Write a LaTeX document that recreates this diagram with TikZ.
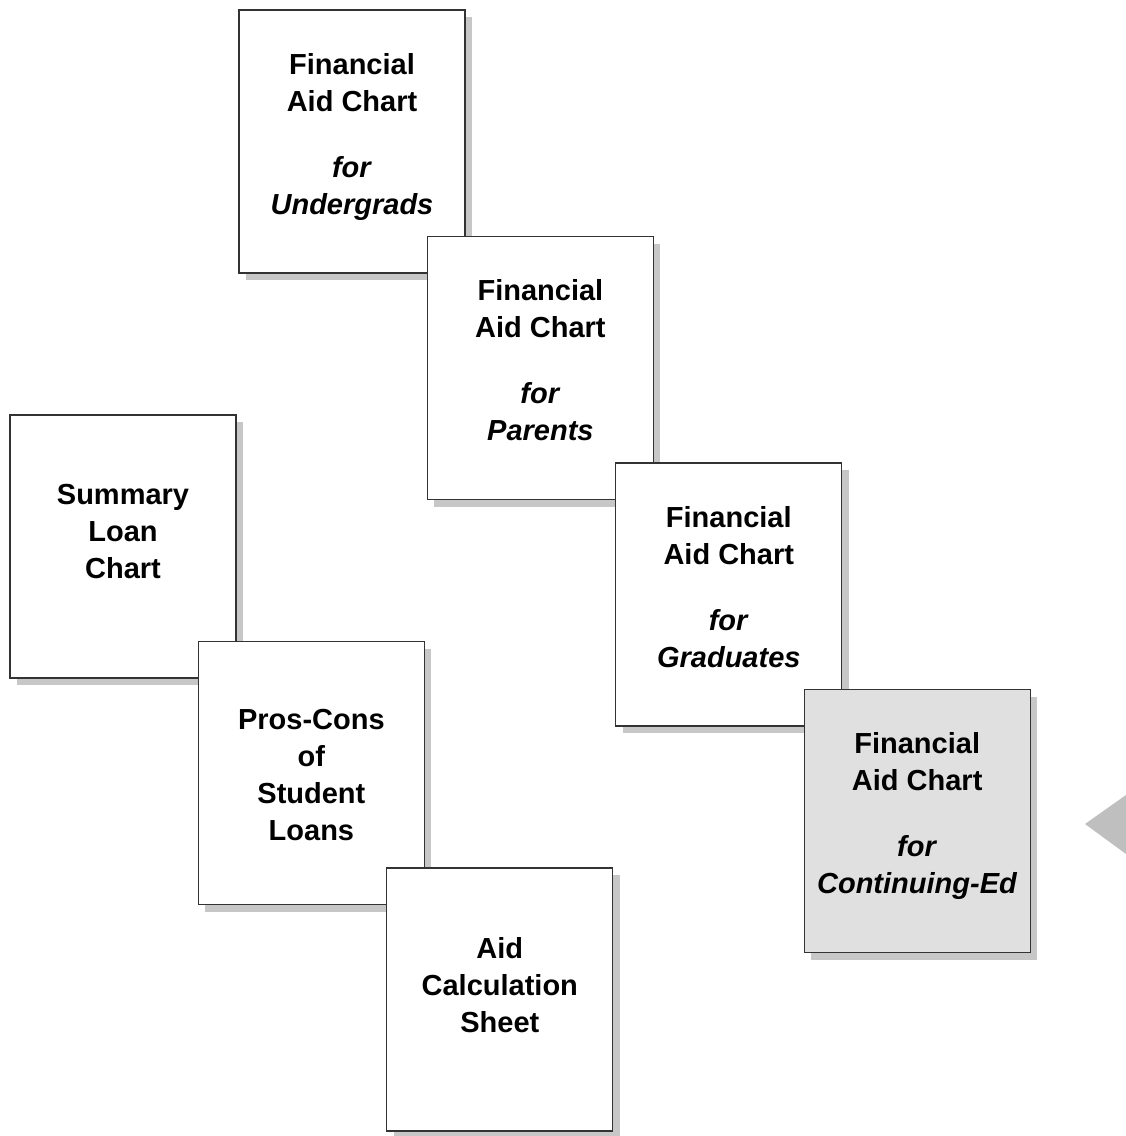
\documentclass[tikz,border=0pt]{standalone}
\usepackage{fontspec}
\setmainfont{Liberation Sans}
\usetikzlibrary{positioning,shadows}

\begin{document}
\begin{tikzpicture}[
    x=1pt, y=1pt,
    node distance=-36.5pt and -37.6pt,
    font=\fontsize{29}{37}\selectfont\bfseries,
    % Node styles
    sheet/.style={draw=black!80, line width=1.2pt, fill=white, inner sep=0pt, outer sep=0pt,
        minimum width=226pt, minimum height=263pt,
        general shadow={fill=black!22, shadow xshift=7pt, shadow yshift=-7pt}},
    current/.style={sheet, fill=black!12},
    caption/.style={anchor=north, align=center, inner sep=0pt},
    pointer/.style={fill=black!25},
]
    \useasboundingbox (0,0) rectangle (1126,-1136);

    % Financial aid charts
    \node[sheet] (ug) at (352,-141.5) {};
    \node[sheet, below right=of ug] (pa) {};
    \node[sheet, below right=of pa] (gr) {};
    \node[current, below right=of gr] (ce) {};

    % Loan sheets
    \node[sheet] (su) at (123,-546.5) {};
    \node[sheet, below right=of su] (pc) {};
    \node[sheet, below right=of pc] (ac) {};

    % Captions
    \node[caption] (ugtext) at ([yshift=-43pt]ug.north) {Financial\\Aid Chart\\[29pt]\textit{for}\\\textit{Undergrads}};
    \node[caption] (patext) at ([yshift=-43pt]pa.north) {Financial\\Aid Chart\\[29pt]\textit{for}\\\textit{Parents}};
    \node[caption] (grtext) at ([yshift=-43pt]gr.north) {Financial\\Aid Chart\\[29pt]\textit{for}\\\textit{Graduates}};
    \node[caption] (cetext) at ([yshift=-43pt]ce.north) {Financial\\Aid Chart\\[29pt]\textit{for}\\\textit{Continuing-Ed}};
    \node[caption] (sutext) at ([yshift=-69pt]su.north) {Summary\\Loan\\Chart};
    \node[caption] (pctext) at ([yshift=-68pt]pc.north) {Pros-Cons\\of\\Student\\Loans};
    \node[caption] (actext) at ([yshift=-69pt]ac.north) {Aid\\Calculation\\Sheet};

    % Pointer at the right edge
    \fill[pointer] (1085,-824) -- (1126,-795) -- (1126,-854) -- cycle;

\end{tikzpicture}
\end{document}
